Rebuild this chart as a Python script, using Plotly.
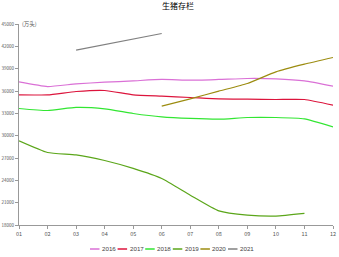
import plotly.graph_objects as go

months = ["01", "02", "03", "04", "05", "06", "07", "08", "09", "10", "11", "12"]
s2016 = [37220, 36600, 36960, 37180, 37360, 37550, 37450, 37550, 37680, 37630, 37360, 36650]
s2017 = [35480, 35480, 35930, 36070, 35480, 35300, 35130, 34940, 34900, 34860, 34860, 34100]
s2018 = [33650, 33380, 33790, 33600, 32980, 32520, 32310, 32210, 32440, 32440, 32260, 31180]
s2019 = [29300, 27740, 27420, 26670, 25600, 24250, 22010, 19900, 19330, 19190, 19550, None]
s2020 = [None, None, None, None, None, 33960, 34940, 35990, 37010, 38570, 39600, 40500]
s2021 = [None, None, 41480, None, None, 43720, None, None, None, None, None, None]

series = [("2016", s2016, "#DA70D6"), ("2017", s2017, "#DC143C"), ("2018", s2018, "#32E632"),
          ("2019", s2019, "#5BA61A"), ("2020", s2020, "#9C8C10"), ("2021", s2021, "#808080")]
yticks = [18000, 21000, 24000, 27000, 30000, 33000, 36000, 39000, 42000, 45000]

W, H, L, R, T, B = 339, 257, 19, 6, 24, 32
pw, ph = W - L - R, H - T - B

fig = go.Figure()
for name, vals, col in series:
    fig.add_trace(go.Scatter(x=months, y=vals, name=name, mode="lines",
                             line=dict(color=col, width=1.2, shape="spline", smoothing=0.5),
                             connectgaps=(name == "2021"), showlegend=False))

fig.update_layout(
    width=W, height=H, margin=dict(l=L, r=R, t=T, b=B, autoexpand=False),
    paper_bgcolor="white", plot_bgcolor="white",
    font=dict(family="Noto Sans CJK SC", color="#555"),
    title=dict(text="生猪存栏", x=0.525, xanchor="center", y=0.985, yanchor="top",
               font=dict(size=8, color="#000")),
    showlegend=False,
    xaxis=dict(type="category", categoryorder="array", categoryarray=months,
               showgrid=False, showline=True, linecolor="#999", linewidth=1,
               ticks="outside", ticklen=3, tickcolor="#999", tickfont=dict(size=5.5, color="#555"),
               range=[0, 11], zeroline=False, automargin=False),
    yaxis=dict(range=[18000, 45000], tickvals=yticks, ticktext=[str(t) for t in yticks],
               showgrid=False, showline=True, linecolor="#999", linewidth=1,
               ticks="outside", ticklen=3, tickcolor="#999", tickfont=dict(size=4.5, color="#555"),
               zeroline=False, automargin=False),
)
fig.add_annotation(text="(万头)", xref="paper", yref="paper", x=0.0, y=1.0, xanchor="left",
                   yanchor="middle", showarrow=False, xshift=1, font=dict(size=5.5, color="#555"))

# custom legend
def px2x(px):
    return (px - L) / pw
ly = (H - B - 249) / ph
start = 90
step = 27.6
for i, (name, vals, col) in enumerate(series):
    x0 = start + i * step
    fig.add_shape(type="line", xref="paper", yref="paper", x0=px2x(x0), x1=px2x(x0 + 9.5),
                  y0=ly, y1=ly, line=dict(color=col, width=1.5))
    fig.add_annotation(text=name, xref="paper", yref="paper", x=px2x(x0 + 10), y=ly,
                       xanchor="left", yanchor="middle", showarrow=False,
                       font=dict(family="Liberation Sans, Arial, sans-serif",
                                 size=6.2, color="#444"))
fig.write_html("out.html")
